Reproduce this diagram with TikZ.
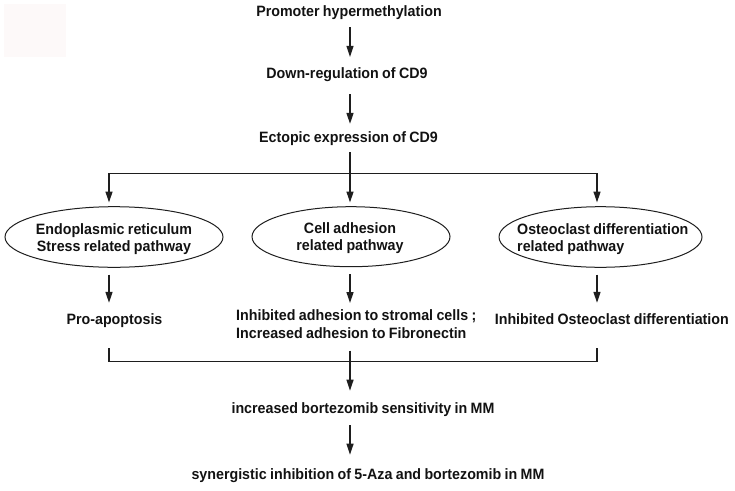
\documentclass[tikz,border=0pt]{standalone}
\usepackage{fontspec}
\usetikzlibrary{arrows.meta,shapes.geometric}
\newfontfamily\diagfont{Liberation Sans}[WordSpace=0.85,FakeStretch=0.95]
\definecolor{textc}{RGB}{18,18,18}
\definecolor{linec}{RGB}{30,30,30}
\definecolor{smudge}{RGB}{253,249,249}
\begin{document}
\begin{tikzpicture}[x=1pt,y=-1pt,
  txt/.style={font=\diagfont\bfseries\fontsize{15pt}{17.5pt}\selectfont, text=textc, inner sep=0pt},
  one/.style={txt, text height=10.8pt, text depth=3pt},
  line/.style={draw=linec, line width=1.3pt},
  arr/.style={line, -{Triangle[length=11pt,width=7pt]}},
  ell/.style={ellipse, draw=linec, line width=1pt, inner sep=0pt}]
\useasboundingbox (0,0) rectangle (735,490);
\fill[smudge] (4,4) rectangle (66,57);

% spine and branch coordinates
\coordinate (jc) at (350,173.3);
\coordinate (jl) at (109,173.3);
\coordinate (jr) at (597,173.3);

% top chain
\node[one, anchor=base] (t1) at (349,16) {Promoter hypermethylation};
\node[one, anchor=base] (t2) at (347,78.6) {Down-regulation of CD9};
\node[one, anchor=base] (t3) at (348.5,142) {Ectopic expression of CD9};

\draw[arr, shorten <=8pt, shorten >=10.7pt] (t1.south -| jc) -- (t2.north -| jc);
\draw[arr, shorten <=12.5pt, shorten >=7.2pt] (t2.south -| jc) -- (t3.north -| jc);
\draw[line, shorten <=7pt] (t3.south -| jc) -- (jc);
\draw[line] (jl) -- (jr);

% ellipses
\node[ell, minimum width=218pt, minimum height=60.6pt] (e1) at (114,237) {};
\node[ell, minimum width=198pt, minimum height=60pt] (e2) at (351,236.7) {};
\node[ell, minimum width=203pt, minimum height=60.6pt] (e3) at (600.5,237) {};

\node[txt, anchor=base, align=center] (e1t) at (114,251.5) {Endoplasmic reticulum\\Stress related pathway};
\node[txt, anchor=base, align=center] (e2t) at (350,250.5) {Cell adhesion\\related pathway};
\node[txt, anchor=base west, align=left] (e3t) at (517,251.5) {Osteoclast differentiation\\related pathway};

\draw[arr, shorten >=3.7pt] (jl) -- (jl |- e1.north);
\draw[arr, shorten >=3.7pt] (jc) -- (jc |- e2.north);
\draw[arr, shorten >=3.7pt] (jr) -- (jr |- e3.north);

% results
\node[one, anchor=base] (r1) at (114.5,324.5) {Pro-apoptosis};
\node[txt, anchor=base west, align=left] (r2) at (236,338) {Inhibited adhesion to stromal cells ;\\Increased adhesion to Fibronectin};
\node[one, anchor=base east] (r3) at (729,324.5) {Inhibited Osteoclast differentiation};

\draw[arr, shorten <=6.7pt, shorten >=10.7pt] (e1.south -| jl) -- (r1.north -| jl);
\draw[arr, shorten <=7pt, shorten >=7pt] (e2.south -| jc) -- (jc |- 0,310);
\draw[arr, shorten <=6.7pt, shorten >=10.7pt] (e3.south -| jr) -- (r3.north -| jr);

% bracket
\coordinate (bl) at (109,348);
\coordinate (br) at (597,348);
\coordinate (bm) at (350,361.7);
\coordinate (cm) at (350,350.7);
\draw[line] (bl) -- (bl |- bm) -- (br |- bm) -- (br);

% bottom chain
\node[one, anchor=base] (t4) at (363,413) {increased bortezomib sensitivity in MM};
\node[one, anchor=base] (t5) at (368,479) {synergistic inhibition of 5-Aza and bortezomib in MM};

\draw[arr, shorten >=11.3pt] (cm) -- (cm |- t4.north);
\draw[arr, shorten <=9pt, shorten >=13.3pt] (t4.south -| cm) -- (t5.north -| cm);
\end{tikzpicture}
\end{document}
